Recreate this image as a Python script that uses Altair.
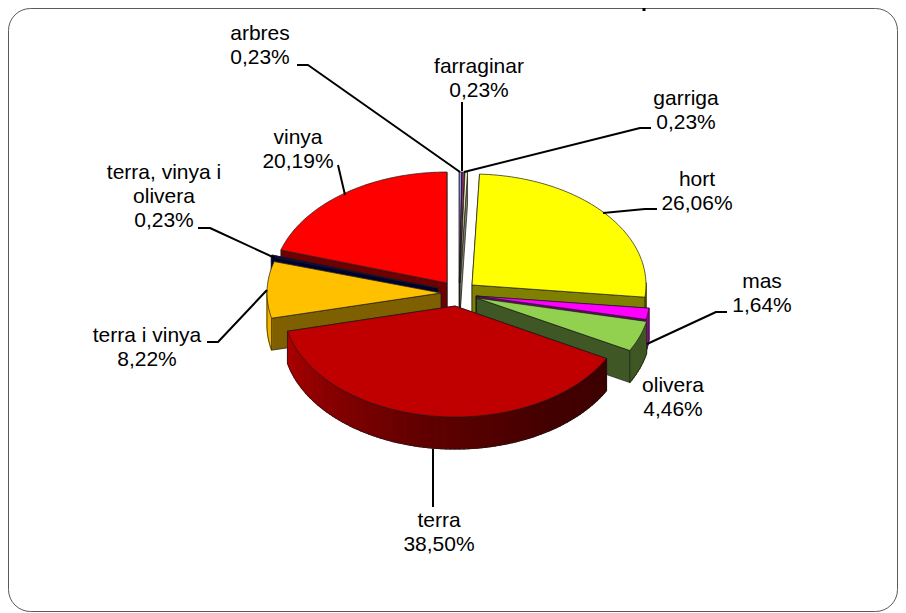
import math
import altair as alt
import pandas as pd

# --- chart values ---
categories = ["arbres", "farraginar", "garriga", "hort", "mas", "olivera", "terra",
              "terra i vinya", "terra, vinya i olivera", "vinya"]
percent = [0.23, 0.23, 0.23, 26.06, 1.64, 4.46, 38.50, 8.22, 0.23, 20.19]
top_colors = ["#9999ff", "#993366", "#ffffcc", "#ffff00", "#ff00ff", "#92d050",
              "#c00000", "#ffc000", "#000066", "#ff0000"]
wall_colors = ["#4c4c7f", "#4c1933", "#7f7f66", "#7f7f00", "#7f007f", "#3f5724",
               "#600000", "#7f6000", "#000033", "#700000"]
rim_colors = ["#4c4c7f", "#4c1933", "#7f7f66", "#7f7f00", "#a000a0", "#3f5724",
              None, "#f0b400", "#000033", "#700000"]

# --- layout: where each exploded slice's apex sits, and its horizontal radius ---
apex_x = [459.3, 459.6, 460.0, 472, 476, 476.5, 455, 441, 438, 447]
apex_y = [283, 283, 283, 285, 296, 298, 306, 293, 288, 283]
radius_x = [174, 174, 174, 174, 174, 174, 172, 174, 174, 174]
paint_order = ["vinya", "arbres", "farraginar", "garriga", "hort", "mas", "olivera",
               "terra, vinya i olivera", "terra i vinya", "terra"]
RY, DEPTH = 111, 32

label_lines = [["arbres"], ["farraginar"], ["garriga"], ["hort"], ["mas"], ["olivera"], ["terra"],
               ["terra i vinya"], ["terra, vinya i", "olivera"], ["vinya"]]
label_x = [260, 479, 686, 697, 762, 673, 439, 147, 164, 298]
label_y = [34, 67, 99, 180, 282, 386, 521, 336, 173, 138]
LINE_GAP = 24.0

leaders = [
    [(297, 65), (308, 65), (460, 172)],
    [(462, 102), (462, 171)],
    [(651, 128), (640, 128), (464, 172)],
    [(603, 213), (645, 209), (657, 209)],
    [(647, 344), (716, 312), (727, 312)],
    [(433, 449), (433, 507)],
    [(267, 290), (218, 342), (207, 342)],
    [(275, 258), (210, 228), (198, 228)],
    [(345, 195), (338, 165)],
]
# the foot of the slide title's "p", all that shows of that title
title_stem = [(644, 8), (644, 11)]

EDGE = "#1a1a1a"


def rim(ax, ay, rx, t, drop=0.0):
    r = math.radians(t)
    return [ax + rx * math.sin(r), ay - RY * math.cos(r) + drop]


def feature(kind, coords, fill, stroke, sw):
    geom = {"type": kind, "coordinates": coords}
    return {"type": "Feature", "geometry": geom,
            "properties": {"fill": fill, "stroke": stroke, "sw": sw}}


def shade(hex_color, f):
    vals = [int(hex_color[i:i + 2], 16) for i in (1, 3, 5)]
    return "#" + "".join(f"{max(0, min(255, round(v * f))):02x}" for v in vals)


def terra_wall_colour(t):
    # dark on the right of the drum, brighter towards the left
    stops = [(118, 0.31), (150, 0.36), (190, 0.5), (230, 0.72), (257, 0.9)]
    for (a, fa), (b, fb) in zip(stops, stops[1:]):
        if t <= b:
            return shade("#c00000", fa + (fb - fa) * (t - a) / (b - a))
    return shade("#c00000", stops[-1][1])


features = []
starts = {}
cum = 0.0
for name, pct in zip(categories, percent):
    starts[name] = (cum * 3.6, (cum + pct) * 3.6)
    cum += pct

for name in paint_order:
    i = categories.index(name)
    t0, t1 = starts[name]
    ax, ay, rx = apex_x[i], apex_y[i], radius_x[i]
    n = max(2, int((t1 - t0) / 1.5))
    ts = [t0 + (t1 - t0) * k / n for k in range(n + 1)]

    # radial walls, the one further back first
    for t in sorted((t0, t1), key=lambda v: rim(ax, ay, rx, v)[1]):
        a, b = [ax, ay], rim(ax, ay, rx, t)
        features.append(feature("Polygon", [[a, b, rim(ax, ay, rx, t, DEPTH), [ax, ay + DEPTH], a]],
                                wall_colors[i], EDGE, 0.7))

    # outer drum, only the part that faces the viewer
    front = [t for t in ts if 88 <= t <= 272]
    if len(front) >= 2:
        for a, b in zip(front, front[1:]):
            col = terra_wall_colour((a + b) / 2) if rim_colors[i] is None else rim_colors[i]
            p, q = rim(ax, ay, rx, a), rim(ax, ay, rx, b)
            r, s = rim(ax, ay, rx, b, DEPTH), rim(ax, ay, rx, a, DEPTH)
            features.append(feature("Polygon", [[p, q, r, s, p]], col, col, 1.2))
        outline = ([rim(ax, ay, rx, front[0])] + [rim(ax, ay, rx, t, DEPTH) for t in front]
                   + [rim(ax, ay, rx, front[-1])])
        features.append(feature("LineString", outline, "transparent", EDGE, 0.7))

    # top face
    ring = [[ax, ay]] + [rim(ax, ay, rx, t) for t in ts] + [[ax, ay]]
    features.append(feature("Polygon", [ring], top_colors[i], EDGE, 0.7))

for path in leaders:
    features.append(feature("LineString", [list(p) for p in path], "transparent", "#000000", 2))
features.append(feature("LineString", [list(p) for p in title_stem], "transparent", "#000000", 3))

projection = alt.Projection(type="identity", scale=1, translate=[-8, -8])

pie = alt.Chart(alt.Data(values=features)).mark_geoshape(strokeJoin="round").encode(
    fill=alt.Fill("properties.fill:N", scale=None),
    stroke=alt.Stroke("properties.stroke:N", scale=None),
    strokeWidth=alt.StrokeWidth("properties.sw:Q", scale=None),
).project(**projection.to_dict())

rows = []
for i, name in enumerate(categories):
    lines = label_lines[i] + [f"{percent[i]:.2f}%".replace(".", ",")]
    for k, line in enumerate(lines):
        rows.append({"x": label_x[i], "y": label_y[i] + k * LINE_GAP, "text": line})

x_scale = alt.Scale(domain=[8, 898], range=[0, 890])
y_scale = alt.Scale(domain=[8, 612], range=[0, 604])

labels = alt.Chart(pd.DataFrame(rows)).mark_text(
    font="Liberation Sans", fontSize=21, color="#000000", align="center", baseline="middle"
).encode(
    x=alt.X("x:Q", scale=x_scale, axis=None),
    y=alt.Y("y:Q", scale=y_scale, axis=None),
    text="text:N",
)

frame = alt.Chart(pd.DataFrame({"k": [0]})).mark_rect(
    fill="#ffffff", stroke="#5a5a5a", strokeWidth=1, cornerRadius=22
).encode(x=alt.value(0.5), x2=alt.value(889.5), y=alt.value(0.5), y2=alt.value(603.5))

chart = alt.layer(frame, pie, labels).properties(
    width=890, height=604, padding=0,
    autosize=alt.AutoSizeParams(type="none"),
    background="#ffffff",
).configure_view(stroke=None)

chart.save("out.html", embed_options={"renderer": "svg", "actions": False})
